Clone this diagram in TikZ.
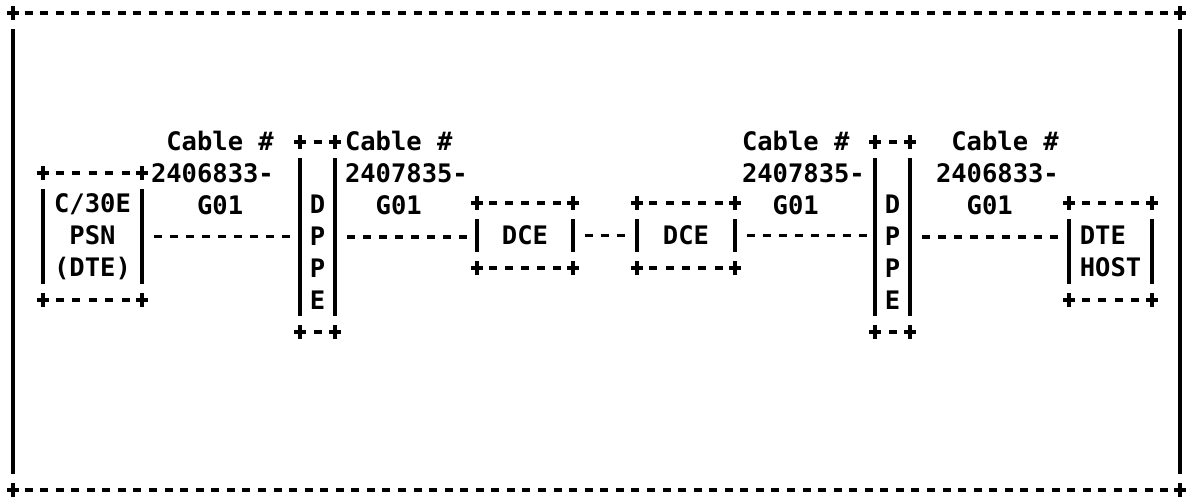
\documentclass[tikz,border=0pt]{standalone}
\usepackage{fontspec}
\setmonofont{DejaVu Sans Mono}
\usetikzlibrary{positioning}

% dashed top and bottom, solid sides, a + at each corner
\newcommand{\asciiframe}[2]{%
  \draw[ink, dash pattern=on 8pt off #2pt, dash phase=4pt]
    (#1.north west) -- (#1.north east) (#1.south west) -- (#1.south east);
  \draw[ink] ([yshift=-16pt]#1.north west) -- ([yshift=16pt]#1.south west)
             ([yshift=-16pt]#1.north east) -- ([yshift=16pt]#1.south east);
  \foreach \c in {north west, north east, south west, south east}
    \draw[ink] (#1.\c) +(-6,0) -- +(6,0) +(0,-7) -- +(0,7);
}

\begin{document}
\begin{tikzpicture}[
    x=1pt, y=-1pt,
    ink/.style={line width=3.2pt, black},
    cable/.style={ink, dash pattern=on 8pt off 8pt, shorten <=12pt, shorten >=8pt},
    txt/.style={font=\ttfamily\bfseries\fontsize{25.5}{32}\selectfont, text=black,
                inner sep=0pt, outer sep=0pt, align=center},
    frame/.style={txt, rectangle, minimum width=#1},
    cablelabel/.style={txt, align=left, anchor=west}
  ]
    \useasboundingbox (0,0) rectangle (1186,496);

    \node[frame=1167pt, minimum height=477pt] (border) at (596.5,251.5) {};

    \node[frame=99pt, minimum height=127pt] (psn) at (92.5,236.5) {C/30E\\PSN\\(DTE)};
    \node[frame=35pt, minimum height=190pt] (dppeL) at (317.5,237) {};
    \node[txt] (dppeLtxt) at (317.5,252.5) {D\\P\\P\\E};
    \node[frame=96pt, minimum height=65pt] (dce1) at (525,235.5) {DCE};
    \node[frame=98pt, minimum height=65pt] (dce2) at (686,235.5) {DCE};
    \node[frame=35pt, minimum height=190pt] (dppeR) at (892.5,237) {};
    \node[txt] (dppeRtxt) at (892.5,252.5) {D\\P\\P\\E};
    \node[frame=83pt, minimum height=97pt, align=left] (host) at (1110.5,251.5) {DTE\\HOST};

    \node[cablelabel] (cableA) at (151,173) {\hphantom{0}Cable \#\\2406833-\\\hphantom{000}G01};
    \node[cablelabel] (cableB) at (345,173) {Cable \#\\2407835-\\\hphantom{00}G01};
    \node[cablelabel] (cableC) at (742,173) {Cable \#\\2407835-\\\hphantom{00}G01};
    \node[cablelabel] (cableD) at (936,173) {\hphantom{0}Cable \#\\2406833-\\\hphantom{00}G01};

    \asciiframe{border}{7.56}
    \asciiframe{psn}{8.5}
    \asciiframe{dppeL}{9.5}
    \asciiframe{dce1}{8}
    \asciiframe{dce2}{8.33}
    \asciiframe{dppeR}{9.5}
    \asciiframe{host}{8.6}

    \draw[cable] (psn.east) -- (dppeL.west |- psn.east);
    \draw[cable] (dppeL.east) -- (dce1.west |- dppeL.east);
    \draw[cable] (dce1) -- (dce2);
    \draw[cable] (dce2.east) -- (dppeR.west |- dce2.east);
    \draw[cable] (dppeR.east) -- (host.west |- dppeR.east);
  \end{tikzpicture}
\end{document}
